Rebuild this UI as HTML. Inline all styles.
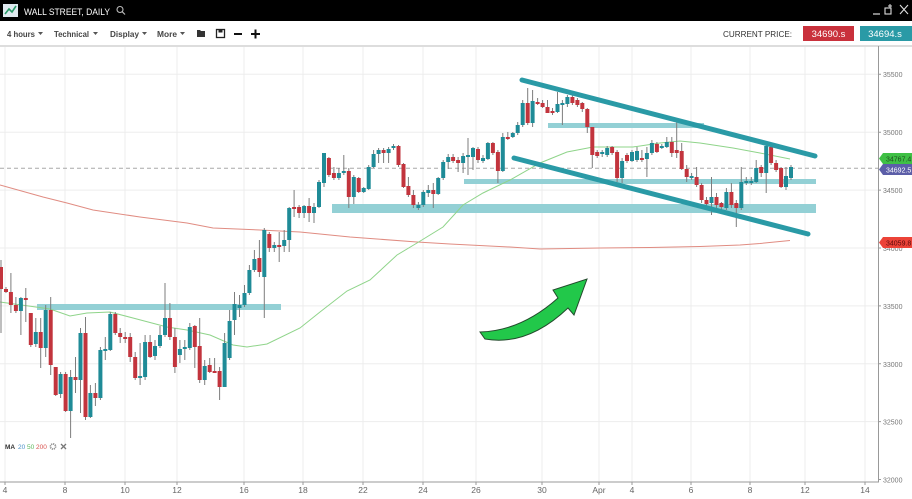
<!DOCTYPE html>
<html><head><meta charset="utf-8"><style>
html,body{margin:0;padding:0;background:#fff;}
svg{display:block;font-family:"Liberation Sans",sans-serif;}
</style></head><body>
<svg width="912" height="499" viewBox="0 0 912 499" xmlns="http://www.w3.org/2000/svg">
<rect x="0" y="0" width="912" height="499" fill="#fff"/>
<!-- header -->
<rect x="0" y="0" width="912" height="21" fill="#000"/>
<rect x="3" y="4" width="15" height="13" fill="#dfe9ef"/>
<polyline points="5,14 9,9 12,12 16,6" fill="none" stroke="#2a9a6a" stroke-width="1.6"/>
<text x="24" y="15" fill="#fff" font-size="9.5" textLength="86" lengthAdjust="spacingAndGlyphs">WALL STREET, DAILY</text>
<circle cx="120" cy="9.5" r="3" fill="none" stroke="#bbb" stroke-width="1.1"/>
<line x1="122.2" y1="11.7" x2="125" y2="14.5" stroke="#bbb" stroke-width="1.2"/>
<line x1="873" y1="14" x2="880" y2="14" stroke="#ddd" stroke-width="1.2"/>
<rect x="885" y="8" width="6" height="6" fill="none" stroke="#ddd" stroke-width="1.1"/>
<path d="M890 4v4M888 6h4" stroke="#ddd" stroke-width="1"/>
<path d="M900 5l8 9M908 5l-8 9" stroke="#ddd" stroke-width="1.1"/>
<!-- toolbar -->
<g fill="#444" font-size="8.5" font-weight="bold">
<text x="7" y="37" textLength="28" lengthAdjust="spacingAndGlyphs">4 hours</text>
<text x="54" y="37" textLength="35" lengthAdjust="spacingAndGlyphs">Technical</text>
<text x="110" y="37" textLength="29" lengthAdjust="spacingAndGlyphs">Display</text>
<text x="157" y="37" textLength="20" lengthAdjust="spacingAndGlyphs">More</text>
</g>
<g fill="#555">
<path d="M38 32h5l-2.5 3z"/><path d="M93 32h5l-2.5 3z"/><path d="M142 32h5l-2.5 3z"/><path d="M180 32h5l-2.5 3z"/>
</g>
<path d="M197 30h3l1 1h4v6h-8z" fill="#333"/>
<rect x="216.5" y="29.5" width="8" height="8" fill="none" stroke="#222" stroke-width="1.3"/>
<rect x="218.5" y="29.5" width="4" height="3" fill="#222"/>
<rect x="234" y="33" width="8" height="2" fill="#111"/>
<rect x="251" y="33" width="9" height="2" fill="#111"/><rect x="254.5" y="29.5" width="2" height="9" fill="#111"/>
<text x="723" y="37" fill="#333" font-size="8" textLength="69" lengthAdjust="spacingAndGlyphs">CURRENT PRICE:</text>
<rect x="803" y="26" width="51" height="15" fill="#c9313c"/>
<text x="828.5" y="37" fill="#fff" font-size="9.5" text-anchor="middle">34690.s</text>
<rect x="860" y="26" width="52" height="15" fill="#2a9aa6"/>
<text x="885" y="37" fill="#fff" font-size="9.5" text-anchor="middle">34694.s</text>
<line x1="0" y1="46" x2="912" y2="46" stroke="#bbb" stroke-width="1"/>
<!-- grid -->
<g stroke="#ededed" stroke-width="1">
<path d="M0 74.3H878M0 132.2H878M0 190.1H878M0 248H878M0 305.9H878M0 363.8H878M0 421.6H878"/>
<path d="M5 47V482M65 47V482M125 47V482M177 47V482M244 47V482M303 47V482M363 47V482M423 47V482M476 47V482M542 47V482M599 47V482M632 47V482M691 47V482M750 47V482M805 47V482M865 47V482"/>
</g>
<!-- axes -->
<line x1="878.5" y1="46" x2="878.5" y2="482" stroke="#999" stroke-width="1"/>
<line x1="0" y1="482" x2="879" y2="482" stroke="#999" stroke-width="1"/>
<g stroke="#999" stroke-width="1">
<path d="M878 74.3h3M878 132.2h3M878 190.1h3M878 248h3M878 305.9h3M878 363.8h3M878 421.6h3M878 479.5h3"/>
<path d="M5 482v3M65 482v3M125 482v3M177 482v3M244 482v3M303 482v3M363 482v3M423 482v3M476 482v3M542 482v3M599 482v3M632 482v3M691 482v3M750 482v3M805 482v3M865 482v3"/>
</g>
<g fill="#777" font-size="7">
<text x="883" y="77">35500</text><text x="883" y="135">35000</text><text x="883" y="193">34500</text><text x="883" y="251">34000</text>
<text x="883" y="309">33500</text><text x="883" y="367">33000</text><text x="883" y="424.5">32500</text><text x="883" y="482.5">32000</text>
</g>
<g fill="#666" font-size="8.5" text-anchor="middle">
<text x="5" y="493">4</text><text x="65" y="493">8</text><text x="125" y="493">10</text><text x="177" y="493">12</text>
<text x="244" y="493">16</text><text x="303" y="493">18</text><text x="363" y="493">22</text><text x="423" y="493">24</text>
<text x="476" y="493">26</text><text x="542" y="493">30</text><text x="599" y="493">Apr</text><text x="632" y="493">4</text>
<text x="691" y="493">6</text><text x="750" y="493">8</text><text x="805" y="493">12</text><text x="865" y="493">14</text>
</g>
<!-- current price dashed -->
<line x1="0" y1="168.3" x2="878" y2="168.3" stroke="#a8a8a8" stroke-width="1" stroke-dasharray="4,3"/>
<!-- zones -->
<g fill="#93d0d5">
<rect x="37" y="304" width="244" height="6"/>
<rect x="332" y="204" width="484" height="9"/>
<rect x="464" y="179" width="352" height="5"/>
<rect x="548" y="123" width="156" height="5"/>
</g>
<!-- MA lines -->
<polyline fill="none" stroke="#e08c82" stroke-width="1" points="0,185 43,197 67,203 93,210 140,217 187,223 213,228 260,230 300,232 350,237 417,242 450,244 510,247 540,249 600,248 650,247.5 700,246.5 740,245 760,243.5 790,240.5"/>
<polyline fill="none" stroke="#8fd48a" stroke-width="1" points="0,302 50,309 70,316 87,313 110,312 133,318 167,327 187,330 210,335 233,345 247,347 267,344 300,328 320,312 347,291 370,280 397,255 417,243 443,227 463,205 483,193 510,180 540,163 567,152 593,147 633,147 660,143 680,141 700,143 733,148 760,153 790,159"/>
<!-- wicks -->
<path fill="none" stroke="#7d7d7d" stroke-width="1" d="M1 260V333M6 287V293M10.9 273V313M15.9 297V313M20.9 297V335M25.8 288V322M30.8 313V347M35.8 318V347M40.7 318V368M45.7 305V357M50.7 297V375M55.7 367V396M60.6 372V398M65.6 372V412M70.6 370V438M75.5 357V393M80.5 328V413M85.5 317V420M90.4 385V418M95.4 383V406M100.4 347V400M105.3 337V360M110.3 312V351M115.3 312V335M120.2 328V343M125.2 332V343M130.2 333V362M135.2 352V380M140.1 343V385M145.1 335V380M150.1 335V358M155 340V360M160 326V348M165 283V337M169.9 303V340M174.9 328V373M179.9 340V363M184.8 340V360M189.8 323V350M194.8 325V368M199.7 318V383M204.7 360V385M209.7 358V373M214.6 358V373M219.6 367V400M224.6 333V387M229.6 310V360M234.5 292V335M239.5 295V317M244.5 285V307M249.4 265V295M254.4 250V272M259.4 240V277M264.3 228V318M269.3 232V252M274.3 242V252M279.2 232V262M284.2 230V252M289.2 207V252M294.1 190V217M299.1 205V218M304.1 205V218M309.1 198V222M314 203V223M319 180V208M324 153V187M328.9 157V177M333.9 167V180M338.9 168V180M343.8 155V175M348.8 168V208M353.8 175V204M358.7 177V193M363.7 187V193M368.7 165V190M373.6 150V168M378.6 148V163M383.6 148V163M388.6 147V163M393.5 144V150M398.5 145V167M403.5 163V188M408.4 177V197M413.4 190V208M418.4 202V210M423.3 190V207M428.3 185V197M433.3 183V208M438.2 177V195M443.2 160V180M448.2 154V169M453.1 154V163M458.1 157V172M463.1 153V173M468 138V175M473 147V170M478 147V163M483 155V163M487.9 142V160M492.9 142V155M497.9 150V183M502.8 133V172M507.8 132V140M512.8 132V138M517.7 122V135M522.7 100V127M527.7 88V125M532.6 90V127M537.6 98V105M542.6 100V108M547.5 100V113M552.5 108V115M557.5 92V113M562.4 100V125M567.4 95V107M572.4 95V105M577.4 98V107M582.3 102V112M587.3 108V133M592.3 127V168M597.2 150V158M602.2 150V157M607.2 146V157M612.1 146V155M617.1 150V182M622.1 158V183M627 153V163M632 150V162M637 147V162M641.9 150V162M646.9 147V177M651.9 140V155M656.9 142V153M661.8 144V149M666.8 137V148M671.8 137V157M676.7 122V158M681.7 143V170M686.7 165V182M691.6 173V180M696.6 167V187M701.6 183V203M706.5 197V207M711.5 177V215M716.5 193V210M721.4 202V210M726.4 188V210M731.4 183V208M736.3 200V227M741.3 167V210M746.3 177V185M751.3 177V185M756.2 160V183M761.2 165V177M766.2 145V193M771.1 145V165M776.1 160V172M781.1 167V188M786 167V190M791 165V180"/>
<!-- red bodies -->
<path fill="#c2343d" d="M-1 267h4V289h-4zM4 289h4V292h-4zM8.9 292h4V305h-4zM13.9 305h4V311h-4zM23.8 298h4V300h-4zM28.8 313h4V345h-4zM38.7 332h4V348h-4zM48.7 310h4V365h-4zM53.7 367h4V395h-4zM63.6 374h4V411h-4zM73.5 377h4V380h-4zM83.5 333h4V417h-4zM93.4 393h4V398h-4zM113.3 314h4V333h-4zM118.2 333h4V337h-4zM123.2 337h4V339h-4zM128.2 337h4V357h-4zM133.2 357h4V378h-4zM148.1 342h4V357h-4zM167.9 318h4V337h-4zM172.9 337h4V367h-4zM192.8 326h4V347h-4zM197.7 346h4V380h-4zM207.7 365h4V372h-4zM212.6 371h4V373h-4zM217.6 371h4V387h-4zM257.4 258h4V272h-4zM267.3 234h4V248h-4zM277.2 245h4V247h-4zM292.1 207h4V209h-4zM297.1 207h4V213h-4zM307.1 206h4V213h-4zM326.9 158h4V175h-4zM331.9 173h4V178h-4zM346.8 171h4V197h-4zM356.7 178h4V192h-4zM381.6 150h4V153h-4zM396.5 146h4V165h-4zM401.5 164h4V187h-4zM406.4 186h4V195h-4zM411.4 195h4V205h-4zM431.3 190h4V194h-4zM451.1 157h4V161h-4zM456.1 160h4V163h-4zM476 149h4V160h-4zM490.9 143h4V153h-4zM495.9 152h4V171h-4zM505.8 137h4V139h-4zM525.7 103h4V123h-4zM535.6 102h4V104h-4zM540.6 103h4V107h-4zM545.5 107h4V113h-4zM550.5 111h4V113h-4zM570.4 97h4V103h-4zM575.4 100h4V105h-4zM580.3 103h4V109h-4zM585.3 109h4V127h-4zM590.3 127h4V155h-4zM595.2 152h4V156h-4zM610.1 147h4V153h-4zM615.1 152h4V178h-4zM625 155h4V161h-4zM639.9 158h4V160h-4zM654.9 144h4V152h-4zM669.8 142h4V153h-4zM674.7 150h4V153h-4zM679.7 151h4V169h-4zM684.7 169h4V177h-4zM694.6 177h4V185h-4zM699.6 185h4V200h-4zM704.5 200h4V204h-4zM714.5 197h4V205h-4zM719.4 203h4V207h-4zM729.4 192h4V205h-4zM734.3 203h4V208h-4zM759.2 167h4V173h-4zM769.1 147h4V163h-4zM774.1 163h4V170h-4zM779.1 168h4V187h-4z"/>
<!-- teal bodies -->
<path fill="#1f8b97" d="M18.9 298h4V311h-4zM33.8 332h4V344h-4zM43.7 310h4V348h-4zM58.6 374h4V394h-4zM68.6 377h4V411h-4zM78.5 333h4V380h-4zM88.4 393h4V417h-4zM98.4 350h4V398h-4zM103.3 349h4V351h-4zM108.3 314h4V350h-4zM138.1 376h4V378h-4zM143.1 342h4V377h-4zM153 346h4V356h-4zM158 335h4V346h-4zM163 318h4V335h-4zM177.9 349h4V355h-4zM182.8 347h4V349h-4zM187.8 327h4V348h-4zM202.7 366h4V380h-4zM222.6 343h4V387h-4zM227.6 321h4V358h-4zM232.5 304h4V320h-4zM237.5 305h4V308h-4zM242.5 293h4V305h-4zM247.4 270h4V293h-4zM252.4 259h4V270h-4zM262.3 230h4V277h-4zM272.3 245h4V248h-4zM282.2 240h4V246h-4zM287.2 208h4V240h-4zM302.1 206h4V213h-4zM312 207h4V213h-4zM317 182h4V207h-4zM322 153h4V183h-4zM336.9 173h4V178h-4zM341.8 171h4V173h-4zM351.8 177h4V197h-4zM361.7 188h4V192h-4zM366.7 167h4V189h-4zM371.6 154h4V167h-4zM376.6 150h4V154h-4zM386.6 149h4V153h-4zM391.5 146h4V148h-4zM416.4 205h4V208h-4zM421.3 192h4V205h-4zM426.3 190h4V193h-4zM436.2 178h4V194h-4zM441.2 162h4V178h-4zM446.2 157h4V162h-4zM461.1 156h4V163h-4zM466 155h4V157h-4zM471 148h4V157h-4zM481 158h4V161h-4zM485.9 143h4V159h-4zM500.8 137h4V171h-4zM510.8 133h4V137h-4zM515.7 125h4V133h-4zM520.7 103h4V125h-4zM530.6 101h4V123h-4zM555.5 104h4V112h-4zM560.4 103h4V105h-4zM565.4 97h4V104h-4zM600.2 152h4V154h-4zM605.2 148h4V155h-4zM620.1 161h4V178h-4zM630 152h4V161h-4zM635 151h4V160h-4zM644.9 153h4V159h-4zM649.9 143h4V153h-4zM659.8 146h4V148h-4zM664.8 142h4V147h-4zM689.6 176h4V178h-4zM709.5 197h4V203h-4zM724.4 192h4V208h-4zM739.3 182h4V208h-4zM744.3 181h4V183h-4zM749.3 181h4V183h-4zM754.2 168h4V182h-4zM764.2 146h4V173h-4zM784 176h4V187h-4zM789 167h4V178h-4z"/>
<!-- trend lines -->
<g stroke="#2a9aa6" stroke-width="5" stroke-linecap="round">
<line x1="522" y1="80" x2="815" y2="156"/>
<line x1="514" y1="158" x2="808" y2="234"/>
</g>
<!-- arrow -->
<path d="M480 332Q521 331 558 298L553 290L587 279L574 315L568 308Q527.5 346.5 485 339Z" fill="#22c84a" stroke="#234a2c" stroke-width="1"/>
<!-- price tags -->
<path d="M883 153H912V164H883L879 158.5Z" fill="#3fc045"/>
<text x="886" y="161.5" fill="#1d4d1d" font-size="7">34767.4</text>
<path d="M883 164H912V175H883L879 169.5Z" fill="#5c5ea8"/>
<text x="886" y="172.5" fill="#fff" font-size="7">34692.5</text>
<path d="M883 237H912V248H883L879 242.5Z" fill="#ec4338"/>
<text x="886" y="245.5" fill="#5a0a0a" font-size="7">34059.8</text>
<!-- legend -->
<text x="5" y="449" font-size="6.5" font-weight="bold" fill="#333">MA</text>
<text x="18" y="449" font-size="6.5" fill="#4a90c8">20</text>
<text x="27" y="449" font-size="6.5" fill="#5cb85c">50</text>
<text x="36" y="449" font-size="6.5" fill="#d9534f">200</text>
<circle cx="53" cy="446.5" r="2.6" fill="none" stroke="#888" stroke-width="1.6" stroke-dasharray="1.2,0.8"/>
<path d="M61 444l5 5M66 444l-5 5" stroke="#777" stroke-width="1.3"/>
</svg>
</body></html>
